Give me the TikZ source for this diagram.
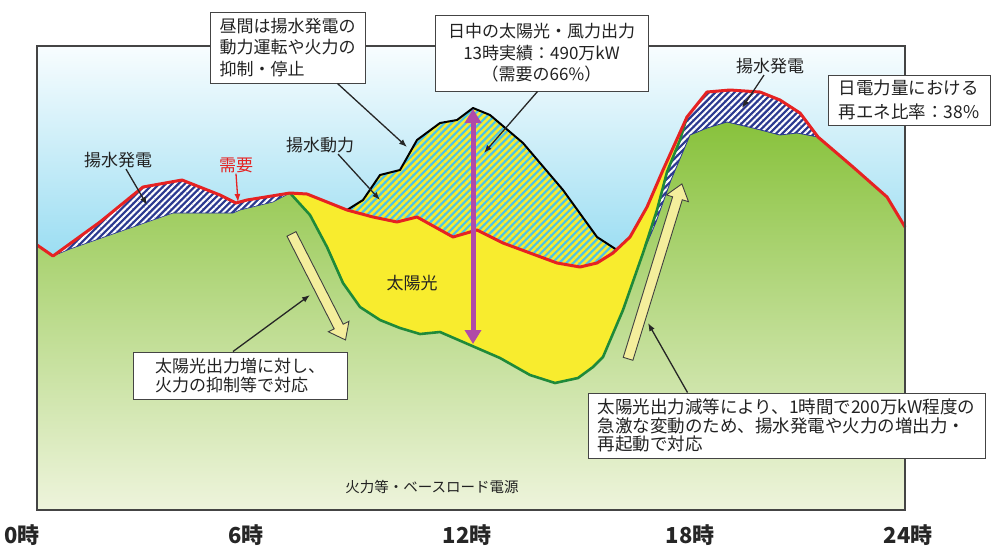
\documentclass[tikz,border=0pt]{standalone}
\usepackage{fontspec}
\setmainfont{Noto Sans CJK JP}
\usetikzlibrary{arrows.meta,patterns.meta,shapes.arrows}
\definecolor{redc}{HTML}{E62222}
\definecolor{dgreen}{HTML}{1F8A3A}
\definecolor{yellowc}{HTML}{F8EC2E}
\definecolor{navyc}{HTML}{2B3990}
\definecolor{cyanc}{HTML}{4DC3E8}
\definecolor{purplec}{HTML}{B04AA8}
\definecolor{textc}{HTML}{222222}
\definecolor{boxc}{HTML}{444444}
\definecolor{arrowfill}{HTML}{F4EE9C}
\definecolor{basetop}{HTML}{88C23C}
\definecolor{basemid}{HTML}{A7D06A}
\definecolor{basebot}{HTML}{EEF4DC}
\begin{document}
\begin{tikzpicture}[x=1pt,y=-1pt,
  box/.style={draw=boxc, line width=1pt, fill=white, inner sep=4pt, text=textc,
    font=\fontsize{17}{21.5}\selectfont},
  lbl/.style={inner sep=1pt, text=textc, font=\fontsize{17}{20}\selectfont},
  axislbl/.style={inner sep=1pt, text=black!85, font=\fontsize{22}{24}\selectfont\bfseries},
  callout/.style={draw=black!85, line width=1.3pt, -{Latex[length=8pt,width=6pt]}},
  bigarrow/.style={single arrow, draw=black!75, fill=arrowfill, line width=0.9pt,
    inner sep=4.6pt, single arrow head extend=6.5pt, single arrow tip angle=75},
  hatchnavy/.style={preaction={fill=navyc}, pattern={Lines[angle=45,distance=4.5pt,line width=2pt]}, pattern color=white},
  hatchsw/.style={preaction={fill=cyanc}, pattern={Lines[angle=45,distance=5pt,line width=2.5pt]}, pattern color=yellowc},
]
\useasboundingbox (0,0) rectangle (993,550);
\fill[white] (0,0) rectangle (993,550);
% sky
\shade[top color=white!96!cyanc, middle color=cyanc!30!white, bottom color=cyanc!62!white]
  (37,46) rectangle (905,280);
\fill[cyanc!62!white] (37,280) rectangle (905,510);
% base load area
\shade[top color=basetop, middle color=basemid, bottom color=basebot]
  (37,245) -- (53,256) -- (70,249) -- (173,213) -- (233,213) -- (240,210) -- (273,202) -- (290,193)
  -- (310,215) -- (327,247) -- (343,283) -- (360,307) -- (380,320) -- (400,328) -- (420,334)
  -- (440,332) -- (470,345) -- (500,358) -- (530,375) -- (555,383) -- (578,378) -- (593,367)
  -- (603,357) -- (623,310) -- (643,253) -- (656,222) -- (671,180) -- (690,135) -- (707,128)
  -- (727,122) -- (753,128) -- (780,135) -- (797,133) -- (818,137) -- (853,167) -- (887,197)
  -- (905,227) -- (905,510) -- (37,510) -- cycle;
% left pumped generation
\path[hatchnavy] (53,256) -- (100,222) -- (143,187) -- (182,180) -- (220,195) -- (236,203)
  -- (247,200) -- (290,193) -- (273,202) -- (240,210) -- (233,213) -- (173,213) -- (70,249) -- cycle;
\draw[navyc, line width=0.6pt] (53,256) -- (70,249) -- (173,213) -- (233,213) -- (240,210) -- (273,202) -- (290,193);
% right pumped generation
\path[hatchnavy] (630,237) -- (647,207) -- (663,170) -- (687,117) -- (707,92) -- (730,90)
  -- (760,92) -- (780,100) -- (800,113) -- (818,137) -- (797,133) -- (780,135) -- (753,128)
  -- (727,122) -- (707,128) -- (690,135) -- (671,180) -- (656,222) -- (643,253) -- cycle;
\draw[navyc, line width=0.8pt] (643,253) -- (656,222) -- (671,180) -- (690,135) -- (707,128)
  -- (727,122) -- (753,128) -- (780,135) -- (797,133) -- (818,137);
% solar (yellow)
\fill[yellowc] (290,193) -- (307,194) -- (347,210) -- (373,217) -- (397,222) -- (417,217)
  -- (453,237) -- (477,230) -- (503,243) -- (530,253) -- (557,263) -- (580,267) -- (597,263)
  -- (613,253) -- (630,237) -- (647,207) -- (663,170) -- (687,117) -- (680,140) -- (667,172)
  -- (657,210) -- (643,253) -- (623,310) -- (603,357) -- (593,367) -- (578,378) -- (555,383)
  -- (530,375) -- (500,358) -- (470,345) -- (440,332) -- (420,334) -- (400,328) -- (380,320)
  -- (360,307) -- (343,283) -- (327,247) -- (310,215) -- cycle;
% solar+wind above demand (pumping)
\path[hatchsw] (347,210) -- (363,200) -- (380,175) -- (400,170) -- (417,140) -- (440,123)
  -- (457,120) -- (473,108) -- (490,115) -- (523,143) -- (563,190) -- (597,237) -- (617,250)
  -- (613,253) -- (597,263) -- (580,267) -- (557,263) -- (530,253) -- (503,243) -- (477,230)
  -- (453,237) -- (417,217) -- (397,222) -- (373,217) -- cycle;
% curves
\draw[dgreen, line width=2.6pt, line join=round] (290,193) -- (310,215) -- (327,247) -- (343,283)
  -- (360,307) -- (380,320) -- (400,328) -- (420,334) -- (440,332) -- (470,345) -- (500,358)
  -- (530,375) -- (555,383) -- (578,378) -- (593,367) -- (603,357) -- (623,310) -- (643,253)
  -- (657,210) -- (667,172) -- (680,140) -- (687,117);
\draw[black, line width=2pt, line join=round] (347,210) -- (363,200) -- (380,175) -- (400,170)
  -- (417,140) -- (440,123) -- (457,120) -- (473,108) -- (490,115) -- (523,143) -- (563,190)
  -- (597,237) -- (617,250);
\draw[redc, line width=3pt, line join=round] (37,245) -- (53,256) -- (100,222) -- (143,187)
  -- (182,180) -- (220,195) -- (236,203) -- (247,200) -- (290,193) -- (307,194) -- (347,210)
  -- (373,217) -- (397,222) -- (417,217) -- (453,237) -- (477,230) -- (503,243) -- (530,253)
  -- (557,263) -- (580,267) -- (597,263) -- (613,253) -- (630,237) -- (647,207) -- (663,170)
  -- (687,117) -- (707,92) -- (730,90) -- (760,92) -- (780,100) -- (800,113) -- (818,137)
  -- (853,167) -- (887,197) -- (905,227);
% frame
\draw[boxc, line width=1.2pt] (37,46) rectangle (905,510);
% big yellow arrows
\node[bigarrow, minimum height=119pt, rotate=-63] (ya1) at (317,284) {};
\node[bigarrow, minimum height=183pt, rotate=72.9] (ya2) at (654,274.5) {};
% purple arrow
\coordinate (ptop) at (473,109);
\coordinate (pbot) at (473,344);
\draw[purplec, line width=5pt, {Triangle[width=16pt,length=14pt]}-{Triangle[width=16pt,length=14pt]}] (ptop) -- (pbot);
% boxes
\node[box, minimum width=155pt, minimum height=71pt, align=left] (boxA) at (287.5,47.5)
  {昼間は揚水発電の\\動力運転や火力の\\抑制・停止};
\node[box, minimum width=213pt, minimum height=76pt, align=center] (boxB) at (541.5,53)
  {日中の太陽光・風力出力\\13時実績：490万kW\\（需要の66\%）};
\node[box, minimum width=162pt, minimum height=50pt, align=left, font=\fontsize{17.5}{24}\selectfont] (boxC) at (909,100)
  {日電力量における\\再エネ比率：38\%};
\node[box, minimum width=214pt, minimum height=47pt, align=left, font=\fontsize{17}{18.5}\selectfont] (boxD) at (240,375.5)
  {太陽光出力増に対し、\\火力の抑制等で対応};
\node[box, minimum width=397pt, minimum height=65pt, align=left, font=\fontsize{17.5}{18.5}\selectfont] (boxE) at (786.5,425.5)
  {太陽光出力減等により、1時間で200万kW程度の\\急激な変動のため、揚水発電や火力の増出力・\\再起動で対応};
% labels
\node[lbl] (lblA) at (118,160) {揚水発電};
\node[lbl] (lblB) at (320,145) {揚水動力};
\node[lbl, text=redc] (lblC) at (236,165) {需要};
\node[lbl] (lblD) at (770,66) {揚水発電};
\node[lbl] (lblE) at (412,283) {太陽光};
\node[lbl, font=\fontsize{14.5}{16}\selectfont] (lblF) at (432,487) {火力等・ベースロード電源};
% callouts
\coordinate (cA) at (407,147);
\coordinate (cB) at (484,153);
\coordinate (cD) at (310,295);
\coordinate (cE) at (648,323);
\coordinate (cLA) at (147,205);
\coordinate (cLB) at (380,200);
\coordinate (cLC) at (238,202);
\coordinate (cLD) at (742,108);
\draw[callout] ([xshift=50pt]boxA.south) -- (cA);
\draw[callout] ([xshift=-4pt]boxB.south) -- (cB);
\draw[callout] ([xshift=-7pt]boxD.north) -- (cD);
\draw[callout] ([xshift=-99pt]boxE.north) -- (cE);
\draw[callout] ([xshift=8pt]lblA.south) -- (cLA);
\draw[callout] ([xshift=18pt]lblB.south) -- (cLB);
\draw[callout, draw=redc] (lblC.south) -- (cLC);
\draw[callout] ([xshift=-6pt]lblD.south) -- (cLD);
% axis labels
\node[axislbl] (h0) at (22,535) {0時};
\node[axislbl] (h6) at (246,535) {6時};
\node[axislbl] (h12) at (467,535) {12時};
\node[axislbl] (h18) at (690,535) {18時};
\node[axislbl] (h24) at (908,535) {24時};
\end{tikzpicture}
\end{document}
